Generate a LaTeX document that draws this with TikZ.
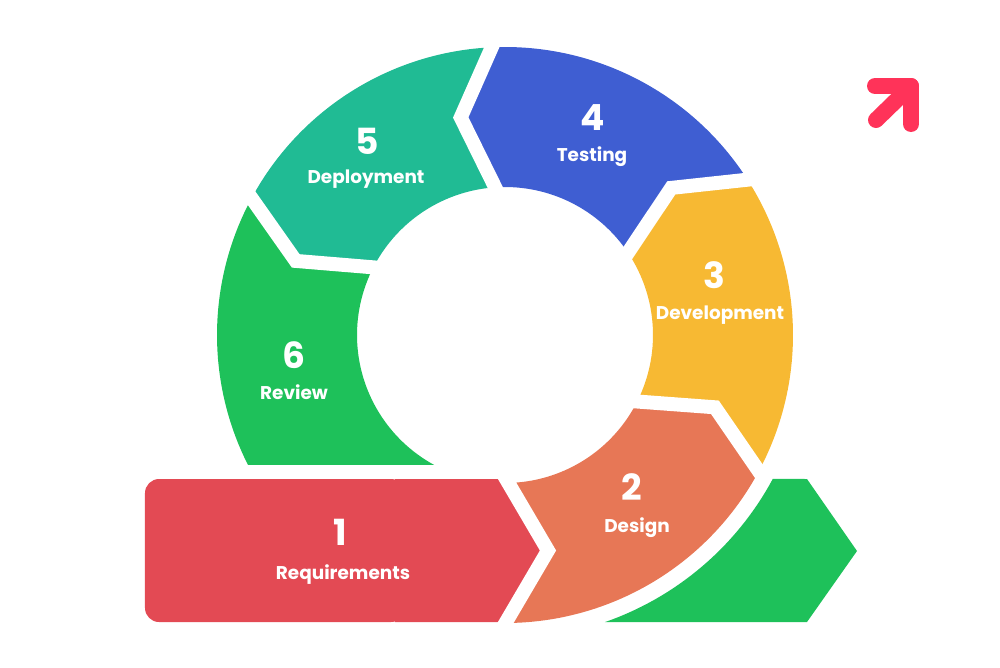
\documentclass[tikz,border=0pt]{standalone}
\usepackage{fontspec}
\setmainfont{Poppins}
\usetikzlibrary{calc,positioning}
\definecolor{reqred}{HTML}{E34A54}
\definecolor{desorange}{HTML}{E77756}
\definecolor{devyellow}{HTML}{F7B933}
\definecolor{testblue}{HTML}{3F5ED2}
\definecolor{depteal}{HTML}{20BB94}
\definecolor{revgreen}{HTML}{1EC15A}
\definecolor{iconred}{HTML}{FF3359}
\def\rIn{148}
\def\rOut{288}
\def\rTip{222}

\begin{document}
\begin{tikzpicture}[x=0.02cm, y=0.02cm,
  num/.style={text=white, anchor=base, font=\bfseries\fontsize{20.5}{22}\selectfont},
  lbl/.style={text=white, anchor=base, font=\bfseries\fontsize{10.5}{12}\selectfont},
  gap/.style={draw=white, line width=0.28cm},
  icon/.style={draw=iconred, line width=0.32cm, line cap=round, line join=round}
]
\useasboundingbox (-505,-332) rectangle (495,335);

\fill[revgreen](150.5:\rOut) arc[start angle=150.5, end angle=206.8, radius=\rOut]
  -- (241.4:\rIn) arc[start angle=241.4, end angle=150.5, radius=\rIn] -- (160.5:\rTip) -- cycle;
\fill[depteal](91.5:\rOut) arc[start angle=91.5, end angle=150.5, radius=\rOut]
  -- (160.5:\rTip) -- (150.5:\rIn) arc[start angle=150.5, end angle=91.5, radius=\rIn] -- (101.5:\rTip) -- cycle;
\fill[testblue](31.5:\rOut) arc[start angle=31.5, end angle=91.5, radius=\rOut]
  -- (101.5:\rTip) -- (91.5:\rIn) arc[start angle=91.5, end angle=31.5, radius=\rIn] -- (41.5:\rTip) -- cycle;
\fill[devyellow](-29:\rOut) arc[start angle=-29, end angle=31.5, radius=\rOut]
  -- (41.5:\rTip) -- (31.5:\rIn) arc[start angle=31.5, end angle=-29, radius=\rIn] -- (-19:\rTip) -- cycle;
\fill[desorange](-90:\rOut) arc[start angle=-90, end angle=-29, radius=\rOut]
  -- (-19:\rTip) -- (-29:\rIn) arc[start angle=-29, end angle=-88.7, radius=\rIn] -- (43,-215.5) -- cycle;
\fill[reqred, rounded corners=8](-360,-287) rectangle (-100,-144);
\fill[reqred](-110,-144) -- (1,-144) -- (43,-215.5) -- (1,-287) -- (-110,-287) -- cycle;

\draw[gap](-29:135) -- (-19:\rTip) -- (-29:296);
\draw[gap](31.5:135) -- (41.5:\rTip) -- (31.5:300);
\draw[gap](91.5:135) -- (101.5:\rTip) -- (91.5:300);
\draw[gap](150.5:135) -- (160.5:\rTip) -- (150.5:300);
\draw[gap](-4,-135.4) -- (43,-215.5) -- (-4,-295.6);

\fill[revgreen](-70.8:304) arc[start angle=-70.8, end angle=-28.25, radius=304]
  -- (302,-144) -- (352,-216) -- (302,-287) -- cycle;

\draw[icon](370,249) -- (406,249) -- (406,211);
\draw[icon](406,249) -- (371,215);

\node[num](n1) at (-165,-210){1};
\node[lbl](l1) at (-162,-244.5){Requirements};
\node[num](n2) at (127,-165){2};
\node[lbl](l2) at (132,-197){Design};
\node[num](n3) at (209,47){3};
\node[lbl](l3) at (215,16){Development};
\node[num](n4) at (88,205){4};
\node[lbl](l4) at (87,174){Testing};
\node[num](n5) at (-138,181){5};
\node[lbl](l5) at (-139,152){Deployment};
\node[num](n6) at (-211,-33){6};
\node[lbl](l6) at (-211,-64){Review};
\end{tikzpicture}
\end{document}
